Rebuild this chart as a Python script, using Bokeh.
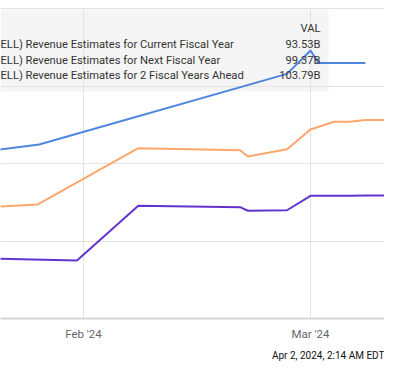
import pandas as pd
from bokeh.plotting import figure
from bokeh.models import (FixedTicker, DatetimeTickFormatter, Range1d, Label,
                          BoxAnnotation, ColumnDataSource, Title)
from bokeh.embed import file_html
from bokeh.resources import INLINE

# ---------------- data ----------------
series_names = [
    "ELL) Revenue Estimates for Current Fiscal Year",
    "ELL) Revenue Estimates for Next Fiscal Year",
    "ELL) Revenue Estimates for 2 Fiscal Years Ahead",
]
series_latest = ["93.53B", "99.37B", "103.79B"]
series_colors = ["#6233cf", "#ffa66c", "#4e86dd"]

cur_dates = ["2024-01-19", "2024-01-31 04:00", "2024-02-08", "2024-02-21", "2024-02-22",
             "2024-02-27", "2024-03-01", "2024-03-06", "2024-03-08", "2024-03-14"]
cur_vals = [88.65, 88.49, 92.73, 92.62, 92.34, 92.38, 93.50, 93.50, 93.53, 93.53]

next_dates = ["2024-01-19", "2024-01-26 04:00", "2024-02-08", "2024-02-21", "2024-02-22",
              "2024-02-27", "2024-03-01", "2024-03-04", "2024-03-06", "2024-03-08", "2024-03-14"]
next_vals = [92.59, 92.83, 97.19, 97.03, 96.54, 97.11, 98.63, 99.23, 99.23, 99.37, 99.37]

two_dates = ["2024-01-19", "2024-01-26 08:00", "2024-02-27", "2024-03-01", "2024-03-02", "2024-03-08"]
two_vals = [96.90, 97.47, 102.94, 104.75, 103.79, 103.79]

tick_dates = ["2024-02-01", "2024-03-01"]
y_ticks = [84, 90, 96, 102, 108]
timestamp = "Apr 2, 2024, 2:14 AM EDT"

# ---------------- layout helpers ----------------
W, H = 384, 364
TOP = 7
FRAME_H = 311
DAY = 86400000.0
PXD = 7.828  # pixels per day
PXV = 310 / 24.0  # pixels per unit value
feb1 = pd.Timestamp("2024-02-01").value / 1e6
x_start = feb1 - 83 / PXD * DAY
x_end = x_start + W / PXD * DAY
y_lo = 84.0
y_hi = y_lo + FRAME_H / PXV


def fx(px):  # figure pixel -> data x
    return x_start + px / PXD * DAY


def fy(py):  # figure pixel (from top of figure) -> data y
    return y_hi - (py - TOP) / PXV


def ms(ds):
    return [pd.Timestamp(d).value / 1e6 for d in ds]


p = figure(width=W, height=H, output_backend="svg", toolbar_location=None,
           x_range=Range1d(x_start, x_end), y_range=Range1d(y_lo, y_hi),
           min_border_left=0, min_border_right=0, min_border_top=TOP,
           min_border_bottom=H - FRAME_H - TOP, x_axis_type="datetime")
p.outline_line_color = None
p.background_fill_color = "white"
p.border_fill_color = "white"

# legend background box (drawn beneath grid and lines)
box = BoxAnnotation(right=fx(328), top=fy(9), bottom=fy(91), level="image",
                    fill_color="#f5f5f5", fill_alpha=1.0, line_color=None)
p.add_layout(box)

for d, v, c in [(cur_dates, cur_vals, series_colors[0]),
                (next_dates, next_vals, series_colors[1]),
                (two_dates, two_vals, series_colors[2])]:
    src = ColumnDataSource(dict(x=ms(d), y=v))
    p.line("x", "y", source=src, line_color=c, line_width=2)

# axes / grid
p.xaxis.ticker = FixedTicker(ticks=ms(tick_dates))
p.xaxis.formatter = DatetimeTickFormatter(days="%b '%y", months="%b '%y")
p.xaxis.axis_line_color = "#d6d6d6"
p.xaxis.axis_line_width = 2
p.xaxis.major_tick_line_color = None
p.xaxis.minor_tick_line_color = None
p.xaxis.major_tick_out = 0
p.xaxis.major_tick_in = 0
p.xaxis.major_label_text_font = "Roboto"
p.xaxis.major_label_text_font_size = "11.5px"
p.xaxis.major_label_text_color = "#666666"
p.xaxis.major_label_standoff = 8
p.yaxis.visible = False
p.yaxis.ticker = FixedTicker(ticks=y_ticks)
p.ygrid.ticker = FixedTicker(ticks=y_ticks)
p.xgrid.grid_line_color = "#e3e3e3"
p.ygrid.grid_line_color = "#e3e3e3"

# legend texts
font = "Roboto"
fs = "11.2px"
p.add_layout(Label(x=fx(320), y=fy(28), text="VAL", text_align="right",
                   text_baseline="alphabetic", text_font=font,
                   text_font_size=fs, text_color="#333333"))
baselines = [44, 59.5, 75]
for name, latest, b in zip(series_names, series_latest, baselines):
    p.add_layout(Label(x=fx(0), y=fy(b), text=name, text_align="left",
                       text_baseline="alphabetic", text_font=font,
                       text_font_size=fs, text_color="#333333"))
    p.add_layout(Label(x=fx(320), y=fy(b), text=latest, text_align="right",
                       text_baseline="alphabetic", text_font=font,
                       text_font_size=fs, text_color="#333333"))

p.add_layout(Title(text=timestamp, align="right", text_font="Roboto",
                   text_font_size="10px", text_font_style="normal",
                   text_color="#111111", standoff=8), "below")

open("out.html", "w").write(file_html(p, INLINE))
